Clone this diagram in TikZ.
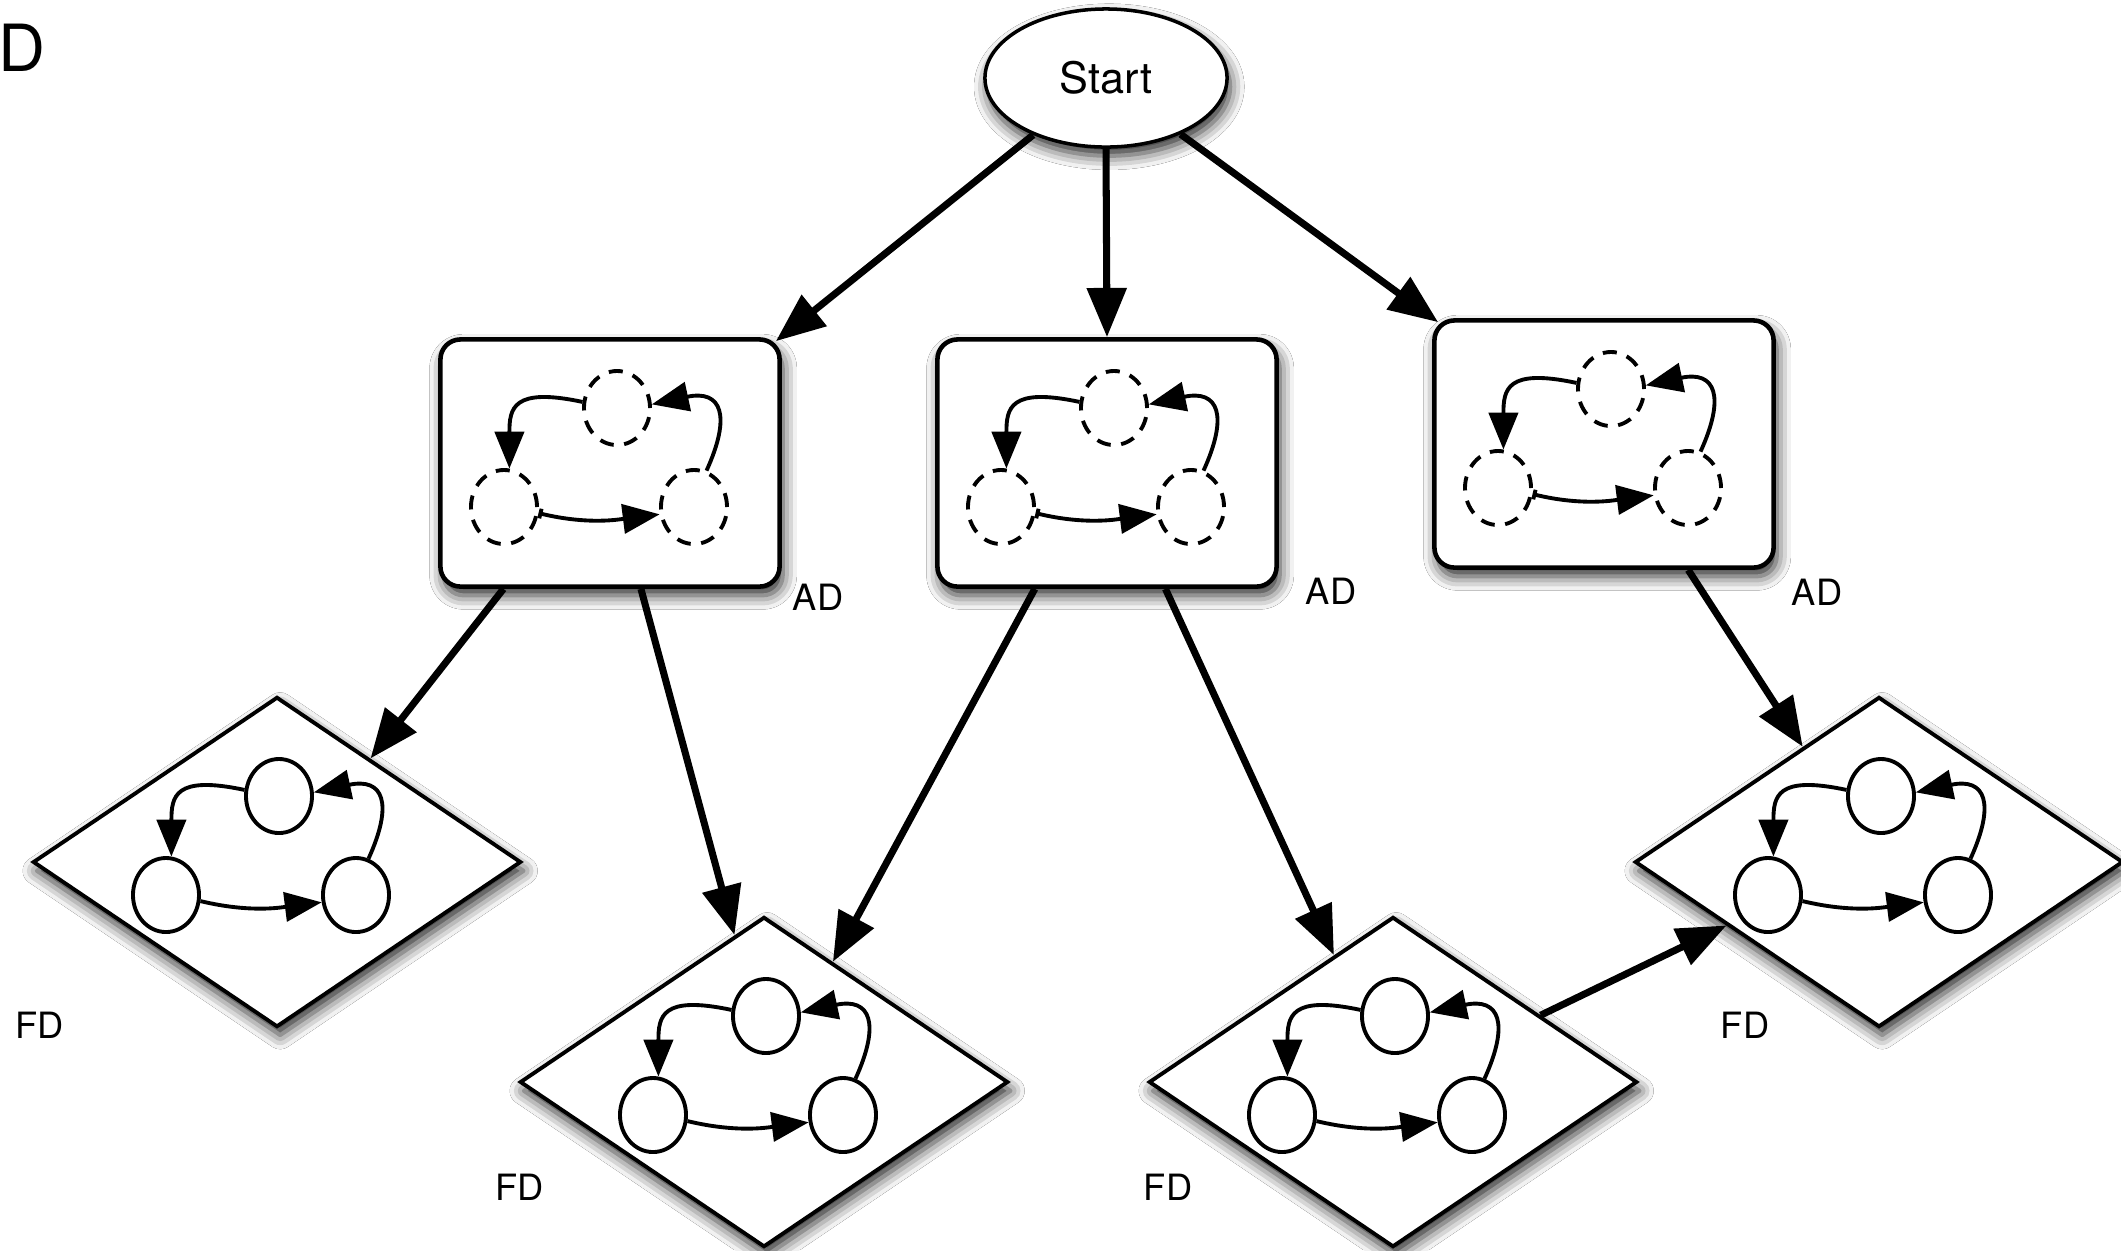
\documentclass[tikz,border=0pt]{standalone}
\usepackage{fontspec}
\setmainfont{TeX Gyre Heros}
\usetikzlibrary{shapes.geometric,arrows.meta,calc,shadows.blur}

\tikzset{
  dropshade/.style={blur shadow={shadow xshift=0.9pt,shadow yshift=-2.5pt,
      shadow blur radius=4pt,shadow opacity=85}},
  startnode/.style={ellipse,draw,line width=1pt,fill=white,
      minimum width=2.42cm,minimum height=1.38cm,inner sep=0pt,dropshade,
      font=\fontsize{12.3}{14}\selectfont},
  adbox/.style={rectangle,rounded corners=0.2cm,draw,line width=1.3pt,fill=white,
      minimum width=3.39cm,minimum height=2.47cm,dropshade},
  fdbox/.style={diamond,draw,line width=1.1pt,fill=white,
      minimum width=4.88cm,minimum height=3.3cm,inner sep=0pt,dropshade},
  cyc/.style={ellipse,draw,line width=1.1pt,fill=white,
      minimum width=0.66cm,minimum height=0.74cm,inner sep=0pt},
  cycdash/.style={cyc,dash pattern=on 4pt off 3pt},
  link/.style={line width=1.1pt,-{Triangle[length=10.5pt,width=8.3pt]}},
  linkbar/.style={line width=1.1pt,{Bar[width=2.8pt]}-{Triangle[length=10.5pt,width=8.3pt]}},
  flow/.style={line width=2pt,-{Triangle[length=14pt,width=11pt]}},
  tag/.style={inner sep=0pt,font=\fontsize{10.3}{12}\selectfont},
}

% three states in a cycle; #1 name prefix, #2 state style, #3 style of the lower edge
\newcommand\loopgraph[3]{%
  \node[#2] (#1t) at (2,-66) {};
  \node[#2] (#1l) at (-111,33) {};
  \node[#2] (#1r) at (79,33) {};
  \draw[link] (#1t.170) .. controls +(-70,-15) and +(0,-60) .. (#1l.82);
  \draw[#3] (#1l.-10) .. controls +(50,12) and +(-40,5) .. (#1r.192);
  \draw[link] (#1r.71) .. controls +(25,-55) and +(70,-15) .. (#1t.6);
}

\begin{document}
\begin{tikzpicture}[x=0.01cm,y=-0.01cm]
\useasboundingbox (0,0) rectangle (2121,1250);
\fill[white] (0,0) rectangle (2121,1250);

% start node
\node[startnode] (start) at (1106,78) {Start};

% abstract level
\node[adbox] (b1) at (610,463) {};
\node[adbox] (b2) at (1107,463) {};
\node[adbox] (b3) at (1604,444) {};

% concrete level
\node[fdbox] (d1) at (277,862) {};
\node[fdbox] (d2) at (764,1082) {};
\node[fdbox] (d3) at (1393,1082) {};
\node[fdbox] (d4) at (1879,862) {};

% cycles inside the boxes
\begin{scope}[shift={($(b1.center)+(5,11)$)}]\loopgraph{ba}{cycdash}{linkbar}\end{scope}
\begin{scope}[shift={($(b2.center)+(5,11)$)}]\loopgraph{bb}{cycdash}{linkbar}\end{scope}
\begin{scope}[shift={($(b3.center)+(5,11)$)}]\loopgraph{bc}{cycdash}{linkbar}\end{scope}

% cycles inside the diamonds
\begin{scope}[shift={(d1.center)}]\loopgraph{da}{cyc}{link}\end{scope}
\begin{scope}[shift={(d2.center)}]\loopgraph{db}{cyc}{link}\end{scope}
\begin{scope}[shift={(d3.center)}]\loopgraph{dc}{cyc}{link}\end{scope}
\begin{scope}[shift={(d4.center)}]\loopgraph{dd}{cyc}{link}\end{scope}

% connectors
\draw[flow] (start.218) -- ($(b1.north east)+(-6,4)$);
\draw[flow] (start.south) -- (b2.north);
\draw[flow] (start.323) -- ($(b3.north west)+(6,4)$);
\draw[flow] ($(b1.south west)!0.19!(b1.south east)$) -- ($(d1.north)!0.38!(d1.east)$);
\draw[flow] ($(b1.south west)!0.59!(b1.south east)$) -- ($(d2.north)!0.12!(d2.west)$);
\draw[flow] ($(b2.south west)!0.29!(b2.south east)$) -- ($(d2.north)!0.28!(d2.east)$);
\draw[flow] ($(b2.south west)!0.67!(b2.south east)$) -- ($(d3.north)!0.24!(d3.west)$);
\draw[flow] ($(b3.south west)!0.745!(b3.south east)$) -- ($(d4.north)!0.31!(d4.west)$);
\draw[flow] ($(d3.north)!0.6!(d3.east)$) -- ($(d4.west)!0.38!(d4.south)$);

% labels
\node[inner sep=0pt,font=\fontsize{18.5}{20}\selectfont] (panel) at (22,48) {D};
\node[tag] (ad1) at (818,597) {AD};
\node[tag] (ad2) at (1331,591) {AD};
\node[tag] (ad3) at (1817,592) {AD};
\node[tag] (fd1) at (40,1025) {FD};
\node[tag] (fd2) at (520,1187) {FD};
\node[tag] (fd3) at (1168,1187) {FD};
\node[tag] (fd4) at (1745,1025) {FD};
\end{tikzpicture}
\end{document}
